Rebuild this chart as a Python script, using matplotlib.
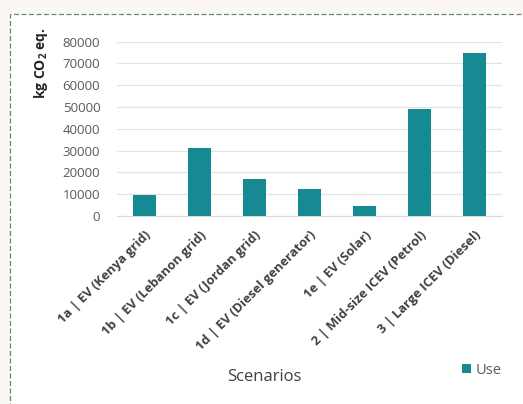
import matplotlib.pyplot as plt
from matplotlib.patches import Rectangle

scenarios = [
    "1a | EV (Kenya grid)",
    "1b | EV (Lebanon grid)",
    "1c | EV (Jordan grid)",
    "1d | EV (Diesel generator)",
    "1e | EV (Solar)",
    "2 | Mid-size ICEV (Petrol)",
    "3 | Large ICEV (Diesel)",
]
use_emissions = [9600, 31300, 17000, 12200, 4600, 49300, 75000]
yticks = [0, 10000, 20000, 30000, 40000, 50000, 60000, 70000, 80000]

teal = "#168a93"
grey_text = "#595959"

plt.rcParams["font.family"] = ["Open Sans", "DejaVu Sans"]

fig = plt.figure(figsize=(5.23, 4.04), dpi=100, facecolor="#fbf7f5")
# white panel with dashed frame, kept behind the axes
panel = Rectangle((10 / 523, -0.05), 1.2, 1 - 14 / 404 + 0.05,
                  transform=fig.transFigure, facecolor="white",
                  edgecolor="#6b8a6b", linestyle=(0, (4, 2)), linewidth=0.9,
                  zorder=-10)
fig.patches.append(panel)

ax = fig.add_axes([117 / 523, 1 - 216 / 404, 385 / 523, (216 - 41.6) / 404])
ax.set_facecolor("none")
x = range(len(scenarios))
ax.bar(x, use_emissions, width=0.41, color=teal, label="Use", zorder=3)

ax.set_xlim(-0.5, len(scenarios) - 0.5)
ax.set_ylim(0, 80000)
ax.set_yticks(yticks)
ax.set_yticklabels([str(v) for v in yticks], fontsize=9.5, color=grey_text)
ax.grid(axis="y", color="#e3e3e3", linewidth=0.9, zorder=0)
ax.set_xticks(list(x))
ax.set_xticklabels(scenarios, rotation=45, ha="right", rotation_mode="anchor",
                   fontsize=9.3, fontweight="bold", color="#404040")
ax.tick_params(axis="x", length=0, pad=9)
ax.tick_params(axis="y", length=0, pad=12)
for s in ["top", "right", "left"]:
    ax.spines[s].set_visible(False)
ax.spines["bottom"].set_color("#d9d9d9")

fig.text(41 / 523, 1 - 63 / 404, r"kg CO$_\mathregular{2}$ eq.", rotation=90,
         ha="center", va="center", fontsize=10, fontweight="bold", color="#262626")
fig.text(264 / 523, 1 - 377 / 404, "Scenarios", ha="center", va="center",
         fontsize=12, color="#404040")

leg = fig.legend(loc="center", bbox_to_anchor=(482 / 523, 1 - 370 / 404),
                 frameon=False, fontsize=10.5, handlelength=0.6, handleheight=0.6,
                 handletextpad=0.3, labelcolor=grey_text)

fig.savefig("out.png", dpi=100, facecolor=fig.get_facecolor())
